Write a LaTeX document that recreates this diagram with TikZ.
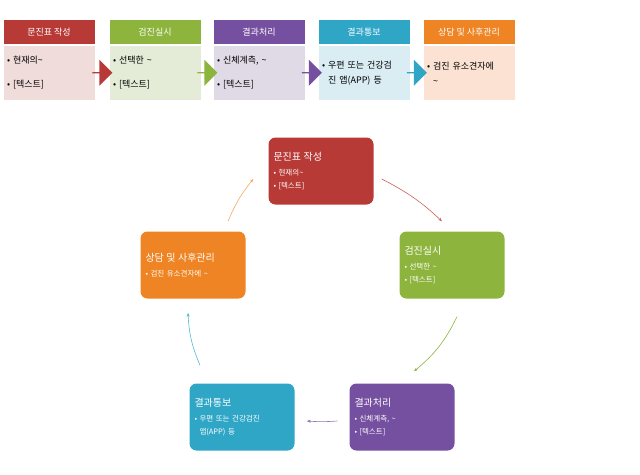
\documentclass[tikz,border=0pt]{standalone}
\usepackage{fontspec}
\newfontfamily\kr{Noto Sans CJK KR}
\usetikzlibrary{positioning,calc,arrows.meta,shapes.arrows}
\definecolor{cred}{HTML}{B83A36}
\definecolor{cgreen}{HTML}{8DB43C}
\definecolor{cpurple}{HTML}{7650A0}
\definecolor{cblue}{HTML}{2FA6C6}
\definecolor{corange}{HTML}{EE8423}
\definecolor{pred}{HTML}{F0DCDB}
\definecolor{pgreen}{HTML}{E4EBD7}
\definecolor{ppurple}{HTML}{E0DAE7}
\definecolor{pblue}{HTML}{DAEDF3}
\definecolor{porange}{HTML}{FBE2D3}

\begin{document}
\begin{tikzpicture}[x=1pt,y=-1pt,font=\kr,
head/.style={minimum width=92pt,minimum height=25pt,inner sep=0pt,text=white,font=\kr\fontsize{9}{10}\selectfont,draw=white,line width=0.8pt},
body/.style={minimum width=92pt,minimum height=55pt,inner sep=4pt,text width=84pt,align=left,anchor=north,font=\kr\fontsize{9}{24}\selectfont,draw=white,line width=0.8pt},
chev/.style={single arrow,minimum height=20pt,minimum width=26pt,single arrow head extend=4pt,inner sep=0pt,draw=none},
card/.style={rounded corners=7pt,minimum width=105pt,minimum height=67pt,text width=95pt,align=left,text=white,inner sep=4pt,font=\kr\fontsize{7.5}{13}\selectfont},
edge/.style={-{Stealth[length=4pt]},line width=0.6pt}]

\useasboundingbox (0,0) rectangle (640,474);

% top row
\node[head,fill=cred] (h1) at (49,32) {문진표 작성};
\node[head,fill=cgreen] (h2) at (155,32) {검진실시};
\node[head,fill=cpurple] (h3) at (259,32) {결과처리};
\node[head,fill=cblue] (h4) at (364,32) {결과통보};
\node[head,fill=corange] (h5) at (469,32) {상담 및 사후관리};

\node[body,fill=pred,below=0pt of h1] (b1) {• 현재의\textasciitilde\\• [텍스트]};
\node[body,fill=pgreen,below=0pt of h2] (b2) {• 선택한 \textasciitilde\\• [텍스트]};
\node[body,fill=ppurple,below=0pt of h3] (b3) {• 신체계측, \textasciitilde\\• [텍스트]};
\node[body,fill=pblue,below=0pt of h4] (b4) {• 우편 또는 건강검\\[-9pt]\ \ 진 앱(APP) 등};
\node[body,fill=porange,below=0pt of h5] (b5) {• 검진 유소견자에\\[-9pt]\ \ \textasciitilde};

\node[chev,fill=cred] (a1) at ($(b1.east)!0.5!(b2.west)$) {};
\node[chev,fill=cgreen] (a2) at ($(b2.east)!0.5!(b3.west)$) {};
\node[chev,fill=cpurple] (a3) at ($(b3.east)!0.5!(b4.west)$) {};
\node[chev,fill=cblue] (a4) at ($(b4.east)!0.5!(b5.west)$) {};

% cycle
\node[card,fill=cred] (c1) at (321,171) {{\fontsize{10}{13}\selectfont 문진표 작성}\\[2pt]• 현재의\textasciitilde\\• [텍스트]};
\node[card,fill=cgreen] (c2) at (452,265) {{\fontsize{10}{13}\selectfont 검진실시}\\[2pt]• 선택한 \textasciitilde\\• [텍스트]};
\node[card,fill=cpurple] (c3) at (402,417) {{\fontsize{10}{13}\selectfont 결과처리}\\[2pt]• 신체계측, \textasciitilde\\• [텍스트]};
\node[card,fill=cblue] (c4) at (242,417) {{\fontsize{10}{13}\selectfont 결과통보}\\[2pt]• 우편 또는 건강검진\\\ \ 앱(APP) 등};
\node[card,fill=corange] (c5) at (193,265) {{\fontsize{10}{13}\selectfont 상담 및 사후관리}\\[2pt]• 검진 유소견자에 \textasciitilde\\};

\draw[edge,cred!80] ($(c1.east)+(8,8)$) to[bend left=8] ($(c2.north)+(-10,-10)$);
\draw[edge,cgreen] ($(c2.south)+(5,18)$) to[bend left=12] ($(c3.north)+(12,-12)$);
\draw[edge,cpurple!80] ($(c3.west)+(-12,4)$) to[bend left=4] ($(c4.east)+(12,4)$);
\draw[edge,cblue!80] ($(c4.north)+(-42,-18)$) to[bend left=10] ($(c5.south)+(-5,14)$);
\draw[edge,corange!70] ($(c5.north)+(35,-10)$) to[bend left=8] ($(c1.west)+(-15,8)$);
\end{tikzpicture}
\end{document}
